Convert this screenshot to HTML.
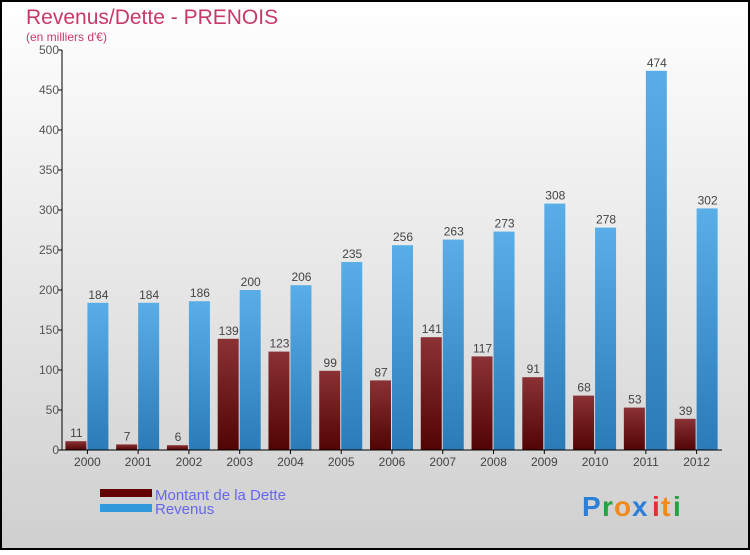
<!DOCTYPE html>
<html><head><meta charset="utf-8"><style>
body{margin:0;width:750px;height:550px;overflow:hidden;font-family:"Liberation Sans",sans-serif}
</style></head><body>
<svg width="750" height="550">
<defs>
<linearGradient id="bg" x1="0" y1="0" x2="0" y2="1"><stop offset="0" stop-color="#ffffff"/><stop offset="1" stop-color="#cfcfcf"/></linearGradient>
<linearGradient id="gd" x1="0" y1="0" x2="0" y2="1"><stop offset="0" stop-color="#8a3235"/><stop offset="1" stop-color="#520404"/></linearGradient>
<linearGradient id="gr" x1="0" y1="0" x2="0" y2="1"><stop offset="0" stop-color="#5aaee8"/><stop offset="1" stop-color="#2a7bb8"/></linearGradient>
</defs>
<rect x="1" y="1" width="748" height="548" fill="url(#bg)" stroke="#000" stroke-width="2"/>
<text x="26" y="24" font-size="21" fill="#c8386a">Revenus/Dette - PRENOIS</text>
<text x="26" y="41" font-size="12" fill="#c8386a">(en milliers d'€)</text>
<g id="plot"></g>
<rect x="100" y="489" width="52" height="8" fill="#650000"/>
<rect x="100" y="504" width="52" height="8" fill="#3399dd"/>
<text x="155" y="500" font-size="15" fill="#6666ee">Montant de la Dette</text>
<text x="155" y="514" font-size="15" fill="#6666ee">Revenus</text>
<g font-size="28" font-weight="bold">
<text x="582" y="516" fill="#2b7fd6">P</text><text x="602" y="516" fill="#28a040">r</text><text x="614" y="516" fill="#f08a1e">o</text><text x="632" y="516" fill="#2b7fd6">x</text><text x="652" y="516" fill="#e03030">i</text><text x="661" y="516" fill="#f08a1e">t</text><text x="673" y="516" fill="#28a040">i</text>
</g>
</svg>
<script>
const years=["2000","2001","2002","2003","2004","2005","2006","2007","2008","2009","2010","2011","2012"];
const dette=[11,7,6,139,123,99,87,141,117,91,68,53,39];
const revenus=[184,184,186,200,206,235,256,263,273,308,278,474,302];
const yTicks=[0,50,100,150,200,250,300,350,400,450,500];
const NS="http://www.w3.org/2000/svg";
const g=document.getElementById('plot');
const x0=62,x1=722,y0=450,y1=50,maxV=500;
const y=v=>y0-(v/maxV)*(y0-y1);
const slot=(x1-x0)/years.length;
const cx=i=>x0+slot*(i+0.5);
function mk(t,a,txt){const e=document.createElementNS(NS,t);for(const k in a)e.setAttribute(k,a[k]);if(txt!==undefined)e.textContent=txt;g.appendChild(e);return e;}
yTicks.forEach(v=>{
const l=mk('line',{x1:x0-4,x2:x0,y1:y(v),y2:y(v),stroke:'#000'});


const t=mk('text',{x:x0-3,y:y(v)+4,'text-anchor':'end','font-size':12,fill:'#555'},v);


});
years.forEach((yr,i)=>{
const c=cx(i);
const bd=mk('rect',{x:c-22,y:y(dette[i]),width:21,height:y0-y(dette[i]),fill:'url(#gd)'});


const br=mk('rect',{x:c,y:y(revenus[i]),width:21,height:y0-y(revenus[i]),fill:'url(#gr)'});


const ld=mk('text',{x:c-11,y:y(dette[i])-4,'text-anchor':'middle','font-size':12,fill:'#444'},dette[i]);


const lr=mk('text',{x:c+11,y:y(revenus[i])-4,'text-anchor':'middle','font-size':12,fill:'#444'},revenus[i]);


const tk=mk('line',{x1:c,x2:c,y1:y0,y2:y0+4,stroke:'#000'});


const xl=mk('text',{x:c,y:y0+16,'text-anchor':'middle','font-size':12,fill:'#444'},yr);


});
const ya=mk('line',{x1:x0,x2:x0,y1:y1,y2:y0,stroke:'#000'});


const xa=mk('line',{x1:x0,x2:x1,y1:y0,y2:y0,stroke:'#000'});


</script>
</body></html>
